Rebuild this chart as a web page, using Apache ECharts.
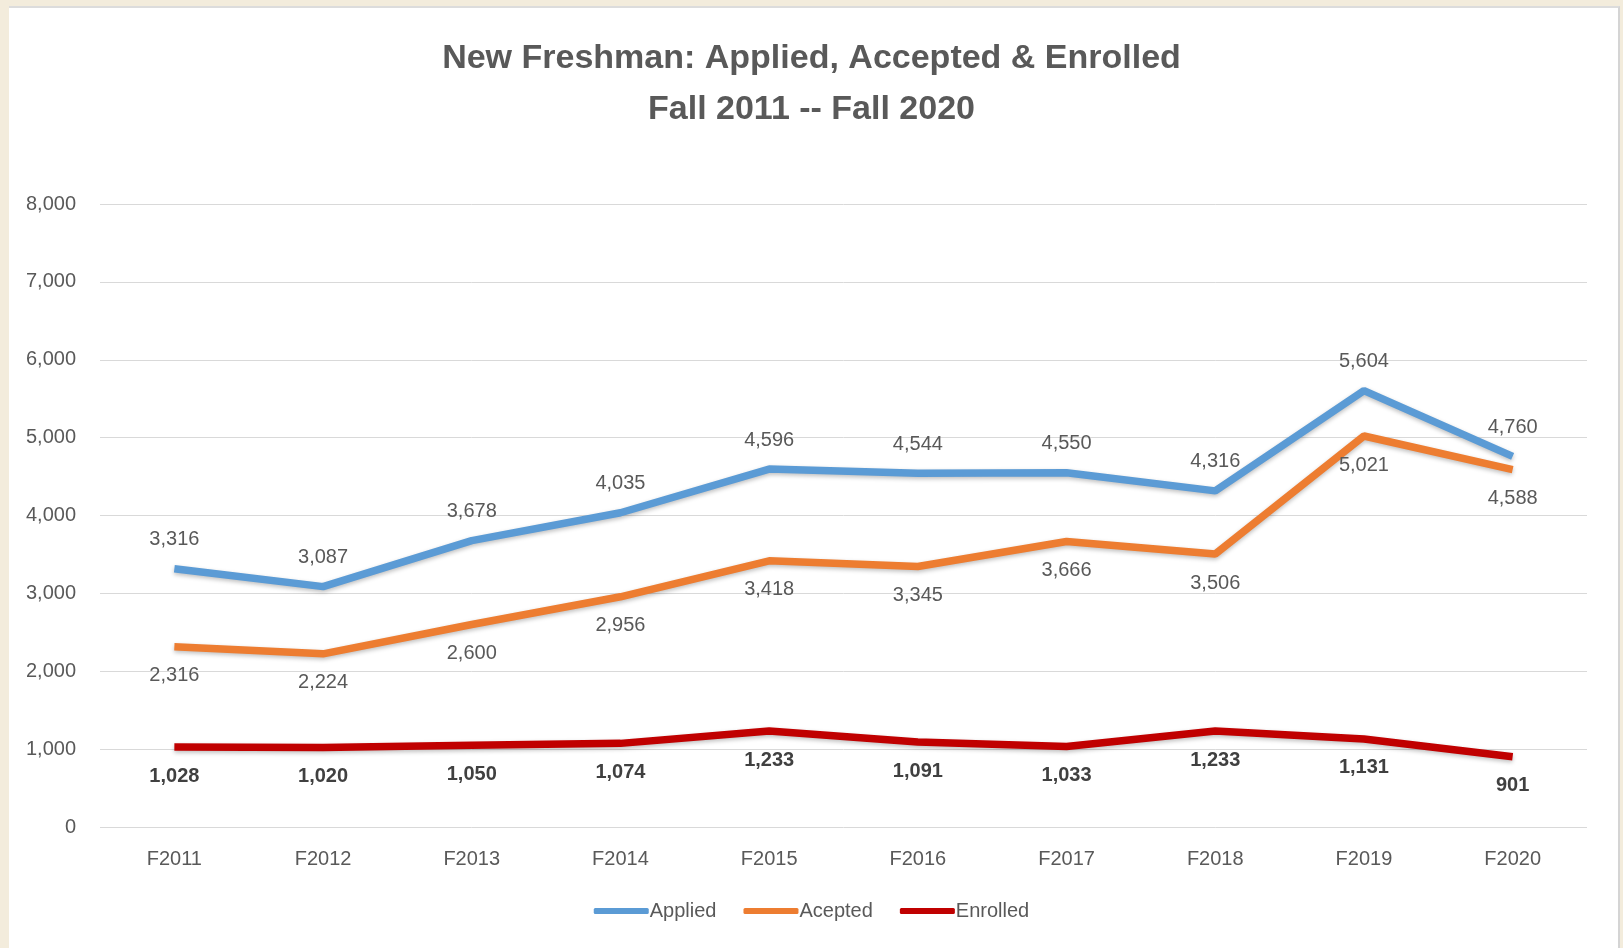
<!DOCTYPE html>
<html lang="en">

<head>
    <meta charset="UTF-8">
    <script src="https://cdn.jsdelivr.net/npm/echarts@6/dist/echarts.min.js"></script>
    <title>New Freshman</title>
    <style>
        html, body { margin: 0; padding: 0; background: #f3ecdc; overflow: hidden; }
        #panel { position: absolute; left: 9px; top: 6px; width: 1611px; height: 942px; background: #fff;
                 border-top: 2px solid #dcdcdc; border-right: 2px solid #d4d4d4; box-sizing: border-box; }
        #main { position: absolute; left: 0; top: 0; width: 1623px; height: 948px; }
    </style>
</head>

<body>
    <div id="panel"></div>
    <div id="main"></div>

    <script>
        var years = ['F2011', 'F2012', 'F2013', 'F2014', 'F2015', 'F2016', 'F2017', 'F2018', 'F2019', 'F2020'];
        var applied = [3316, 3087, 3678, 4035, 4596, 4544, 4550, 4316, 5604, 4760];
        var accepted = [2316, 2224, 2600, 2956, 3418, 3345, 3666, 3506, 5021, 4588];
        var enrolled = [1028, 1020, 1050, 1074, 1233, 1091, 1033, 1233, 1131, 901];

        var font = '"Liberation Sans", Arial, sans-serif';
        var grey = '#595959';

        function fmt(p) {
            return p.value.toLocaleString('en-US');
        }

        function lineSeries(name, data, color, pos, bold) {
            return {
                name: name,
                type: 'line',
                data: data,
                symbol: 'circle',
                symbolSize: 0.1,
                lineStyle: {
                    width: 7.5,
                    color: color,
                    shadowColor: 'rgba(0,0,0,0.25)',
                    shadowBlur: 4,
                    shadowOffsetY: 2
                },
                itemStyle: { color: color },
                label: {
                    show: true,
                    position: pos,
                    distance: 19,
                    formatter: fmt,
                    fontFamily: font,
                    fontSize: 20,
                    fontWeight: bold ? 'bold' : 'normal',
                    color: bold ? '#404040' : grey
                }
            };
        }

        var myChart = echarts.init(document.getElementById('main'));
        var option = {
            animation: false,
            title: {
                text: 'New Freshman: Applied, Accepted & Enrolled\nFall 2011 -- Fall 2020',
                left: 'center',
                top: 28,
                textStyle: {
                    fontFamily: font,
                    fontSize: 34,
                    fontWeight: 'bold',
                    color: grey,
                    lineHeight: 51
                }
            },
            legend: {
                bottom: 22,
                left: 'center',
                icon: 'roundRect',
                itemWidth: 55,
                itemHeight: 6,
                itemGap: 27,
                textStyle: { fontFamily: font, fontSize: 20, color: grey, padding: [0, 0, 0, -4] },
                data: ['Applied', 'Acepted', 'Enrolled']
            },
            grid: {
                left: 100,
                right: 36,
                top: 204,
                bottom: 121
            },
            xAxis: {
                type: 'category',
                data: years,
                axisLine: { show: false },
                axisTick: { show: false },
                axisLabel: { margin: 22, fontFamily: font, fontSize: 20, color: grey }
            },
            yAxis: {
                type: 'value',
                min: 0,
                max: 8000,
                interval: 1000,
                axisLabel: {
                    margin: 24,
                    fontFamily: font,
                    fontSize: 20,
                    color: grey,
                    formatter: function (v) { return v.toLocaleString('en-US'); }
                },
                splitLine: { lineStyle: { color: '#d9d9d9', width: 1 } }
            },
            series: [
                lineSeries('Applied', applied, '#5b9bd5', 'top', false),
                lineSeries('Acepted', accepted, '#ed7d31', 'bottom', false),
                lineSeries('Enrolled', enrolled, '#c00000', 'bottom', true)
            ]
        };
        myChart.setOption(option);
    </script>
</body>

</html>
